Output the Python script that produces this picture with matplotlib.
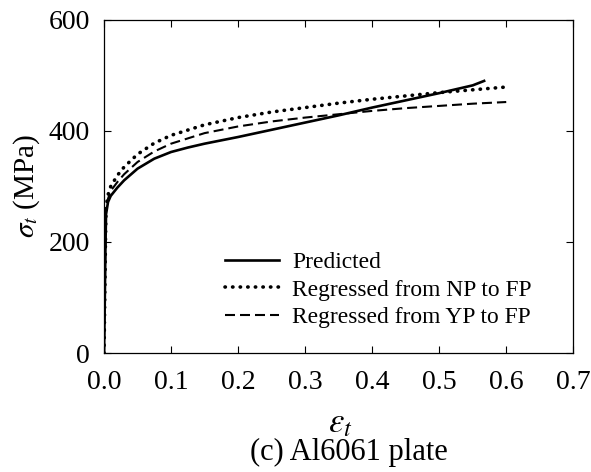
import matplotlib

matplotlib.use("Agg")
import matplotlib.pyplot as plt

# true strain / true stress (MPa)
pred_strain = [0, 0.001, 0.002, 0.003, 0.006, 0.01, 0.02, 0.03, 0.05, 0.075, 0.1,
               0.125, 0.15, 0.2, 0.25, 0.3, 0.35, 0.4, 0.45, 0.5, 0.55, 0.567]
pred_stress = [0, 80, 180, 250, 272, 283, 298, 311, 332, 350, 362,
               370, 377, 389, 402, 415, 428, 442, 455, 468, 482, 490]

np_strain = [0, 0.001, 0.002, 0.003, 0.006, 0.01, 0.02, 0.03, 0.05, 0.075, 0.1,
             0.15, 0.2, 0.25, 0.3, 0.35, 0.4, 0.45, 0.5, 0.55, 0.6]
np_stress = [0, 90, 190, 262, 285, 300, 320, 335, 358, 378, 392,
             411, 424, 434, 442, 450, 457, 463, 469, 474, 479]

yp_strain = [0, 0.001, 0.002, 0.003, 0.006, 0.01, 0.02, 0.03, 0.05, 0.075, 0.1,
             0.15, 0.2, 0.25, 0.3, 0.35, 0.4, 0.45, 0.5, 0.55, 0.6]
yp_stress = [0, 85, 185, 256, 278, 292, 308, 322, 344, 363, 377,
             396, 408, 417, 424, 430, 436, 441, 445, 449, 452]

x_ticks = [0.0, 0.1, 0.2, 0.3, 0.4, 0.5, 0.6, 0.7]
y_ticks = [0, 200, 400, 600]

plt.rcParams["font.family"] = "Liberation Serif"
plt.rcParams["mathtext.fontset"] = "stix"

fig = plt.figure(figsize=(5.91, 4.72), dpi=100)
ax = fig.add_axes([0.176, 0.252, 0.794, 0.706])

ax.plot(pred_strain, pred_stress, color="black", lw=1.9, label="Predicted")
ax.plot(np_strain, np_stress, color="black", lw=2.6, linestyle=(0, (0.1, 2.0)),
        dash_capstyle="round", label="Regressed from NP to FP")
ax.plot(yp_strain, yp_stress, color="black", lw=1.5, linestyle=(0, (4.8, 2.4)),
        label="Regressed from YP to FP")

ax.set_xlim(0, 0.7)
ax.set_ylim(0, 600)
ax.set_xticks(x_ticks)
ax.set_xticklabels([f"{t:.1f}" for t in x_ticks])
ax.set_yticks(y_ticks)
ax.tick_params(direction="in", top=True, right=True, labelsize=20, length=5,
               width=0.8)
ax.tick_params(axis="x", pad=12)
ax.tick_params(axis="y", pad=10)
for s in ax.spines.values():
    s.set_linewidth(0.9)

ax.legend(frameon=False, fontsize=16.9, loc="lower right",
          bbox_to_anchor=(0.937, 0.04), handlelength=2.3, handletextpad=0.55,
          labelspacing=0.25, borderpad=0)

fig.text(0.045, 0.606, r"$\sigma_t$ (MPa)", rotation=90, ha="center", va="center",
         fontsize=21)
fig.text(0.575, 0.103, r"$\varepsilon_t$", ha="center", va="center", fontsize=25)
fig.text(0.59, 0.042, "(c) Al6061 plate", ha="center", va="center", fontsize=22)

fig.savefig("out.png", dpi=100)
